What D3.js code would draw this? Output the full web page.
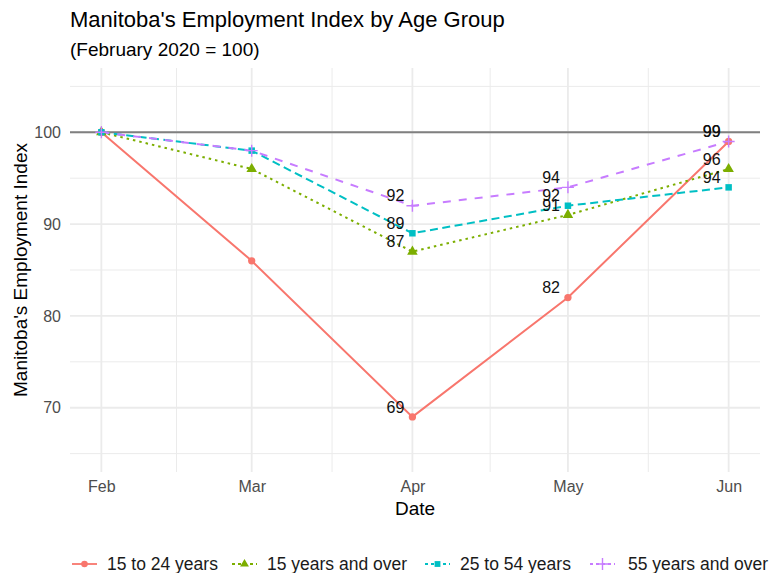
<!DOCTYPE html>
<html>
<head>
<meta charset="utf-8">
<script src="https://cdn.jsdelivr.net/npm/d3@7"></script>
<style>
  body { margin: 0; background: #fff; }
  svg { font-family: "Liberation Sans", Arial, sans-serif; display: block; }
</style>
</head>
<body>
<svg id="chart" width="769" height="573"></svg>
<script>
// data
var months = ["Feb", "Mar", "Apr", "May", "Jun"];
var monthDates = ["2020-02-01", "2020-03-01", "2020-04-01", "2020-05-01", "2020-06-01"];
var seriesNames = ["15 to 24 years", "15 years and over", "25 to 54 years", "55 years and over"];
var age15to24 = [100, 86, 69, 82, 99];
var age15plus = [100, 96, 87, 91, 96];
var age25to54 = [100, 98, 89, 92, 94];
var age55plus = [100, 98, 92, 94, 99];
var labelMonths = ["Apr", "May", "Jun"];
var yTicks = [70, 80, 90, 100];
var yMinor = [65, 75, 85, 95, 105];

var colors = ["#F8766D", "#7CAE00", "#00BFC4", "#C77CFF"];
var dashes = [null, "2.5,4", "8,4.5", "8,8"];
var shapes = [d3.symbolCircle, d3.symbolTriangle, d3.symbolSquare, "plus"];

var parse = d3.timeParse("%Y-%m-%d");
var dates = monthDates.map(parse);
var allValues = [age15to24, age15plus, age25to54, age55plus];
var series = seriesNames.map(function(n, i){
  return { name: n, idx: i, values: allValues[i].map(function(v, j){
    return { date: dates[j], month: months[j], value: v };
  })};
});

var svg = d3.select("#chart");
var pLeft = 70, pRight = 760, pTop = 68, pBottom = 472;

// 5% padding on both scales, like ggplot
var t0 = dates[0].getTime(), t1 = dates[dates.length - 1].getTime();
var pad = (t1 - t0) * 0.05;
var x = d3.scaleTime().domain([new Date(t0 - pad), new Date(t1 + pad)]).range([pLeft, pRight]);
var y = d3.scaleLinear().domain([63, 107]).range([pBottom, pTop]);

// minor gridlines between months
var minorDates = [];
for (var i = 0; i < dates.length - 1; i++) {
  minorDates.push(new Date((dates[i].getTime() + dates[i+1].getTime()) / 2));
}

var grid = svg.append("g");
grid.selectAll(".vminor").data(minorDates).enter().append("line")
  .attr("x1", function(d){ return x(d); }).attr("x2", function(d){ return x(d); })
  .attr("y1", pTop).attr("y2", pBottom)
  .attr("stroke", "#ebebeb").attr("stroke-width", 1);
grid.selectAll(".hminor").data(yMinor).enter().append("line")
  .attr("x1", pLeft).attr("x2", pRight)
  .attr("y1", function(d){ return y(d); }).attr("y2", function(d){ return y(d); })
  .attr("stroke", "#ebebeb").attr("stroke-width", 1);
grid.selectAll(".vmajor").data(dates).enter().append("line")
  .attr("x1", function(d){ return x(d); }).attr("x2", function(d){ return x(d); })
  .attr("y1", pTop).attr("y2", pBottom)
  .attr("stroke", "#ebebeb").attr("stroke-width", 1.8);
grid.selectAll(".hmajor").data(yTicks).enter().append("line")
  .attr("x1", pLeft).attr("x2", pRight)
  .attr("y1", function(d){ return y(d); }).attr("y2", function(d){ return y(d); })
  .attr("stroke", "#ebebeb").attr("stroke-width", 1.8);

// reference line at 100
svg.append("line")
  .attr("x1", pLeft).attr("x2", pRight)
  .attr("y1", y(100)).attr("y2", y(100))
  .attr("stroke", "#808080").attr("stroke-width", 1.8);

// axes
var xAxis = d3.axisBottom(x).tickValues(dates).tickFormat(d3.timeFormat("%b")).tickSize(0).tickPadding(9);
var gx = svg.append("g").attr("transform", "translate(0," + pBottom + ")").call(xAxis);
var yAxis = d3.axisLeft(y).tickValues(yTicks).tickSize(0).tickPadding(9);
var gy = svg.append("g").attr("transform", "translate(" + pLeft + ",0)").call(yAxis);
[gx, gy].forEach(function(g){
  g.select(".domain").remove();
  g.selectAll("text").attr("fill", "#4d4d4d").style("font-size", "16px")
    .style("font-family", "'Liberation Sans', Arial, sans-serif");
});

// lines
var line = d3.line().x(function(d){ return x(d.date); }).y(function(d){ return y(d.value); });
svg.selectAll(".series").data(series).enter().append("path")
  .attr("d", function(d){ return line(d.values); })
  .attr("fill", "none")
  .attr("stroke", function(d){ return colors[d.idx]; })
  .attr("stroke-width", 2)
  .attr("stroke-dasharray", function(d){ return dashes[d.idx]; });

function drawShape(g, idx, size){
  if (shapes[idx] === "plus") {
    g.append("path").attr("d", "M-6,0H6M0,-6V6")
      .attr("stroke", colors[idx]).attr("stroke-width", 1.4).attr("fill", "none");
  } else {
    g.append("path").attr("d", d3.symbol().type(shapes[idx]).size(size)())
      .attr("fill", colors[idx]);
  }
}

// points
series.forEach(function(s){
  s.values.forEach(function(p){
    var g = svg.append("g").attr("transform", "translate(" + x(p.date) + "," + y(p.value) + ")");
    drawShape(g, s.idx, s.idx === 1 ? 48 : 42);
  });
});

// value labels
series.forEach(function(s){
  svg.selectAll(null).data(s.values.filter(function(p){ return labelMonths.indexOf(p.month) >= 0; }))
    .enter().append("text")
    .attr("x", function(p){ return x(p.date) - 8; })
    .attr("y", function(p){ return y(p.value) - 10; })
    .attr("text-anchor", "end").attr("dy", "0.35em")
    .style("font-size", "16px").attr("fill", "#111")
    .text(function(p){ return p.value; });
});

// titles
svg.append("text").attr("x", pLeft).attr("y", 27)
  .style("font-size", "22px").attr("fill", "#000")
  .text("Manitoba's Employment Index by Age Group");
svg.append("text").attr("x", pLeft).attr("y", 56)
  .style("font-size", "19px").attr("fill", "#000")
  .text("(February 2020 = 100)");
svg.append("text").attr("x", (pLeft + pRight) / 2).attr("y", 515)
  .attr("text-anchor", "middle").style("font-size", "19px")
  .text("Date");
svg.append("text")
  .attr("transform", "translate(27," + ((pTop + pBottom) / 2) + ") rotate(-90)")
  .attr("text-anchor", "middle").style("font-size", "19px")
  .text("Manitoba's Employment Index");

// legend
var legendX = [72, 232, 425, 590];
var leg = svg.selectAll(".leg").data(series).enter().append("g")
  .attr("transform", function(d){ return "translate(" + legendX[d.idx] + ",564)"; });
leg.append("line").attr("x1", 0).attr("x2", 25)
  .attr("stroke", function(d){ return colors[d.idx]; })
  .attr("stroke-width", 1.8)
  .attr("stroke-dasharray", function(d){ return dashes[d.idx] ? "3,3" : null; });
leg.each(function(d){
  drawShape(d3.select(this).append("g").attr("transform", "translate(12.5,0)"), d.idx, 34);
});
leg.append("text").attr("x", function(d){ return d.idx === 3 ? 38 : 35; }).attr("dy", "0.35em")
  .style("font-size", "17.5px").attr("fill", "#1a1a1a")
  .text(function(d){ return d.name; });
</script>
</body>
</html>
